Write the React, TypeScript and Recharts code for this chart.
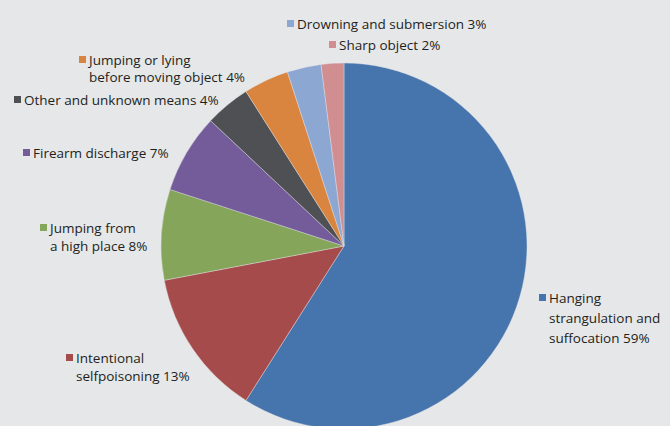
import { PieChart, Pie, Cell } from "recharts";

const categories = [
  "Hanging strangulation and suffocation",
  "Intentional selfpoisoning",
  "Jumping from a high place",
  "Firearm discharge",
  "Other and unknown means",
  "Jumping or lying before moving object",
  "Drowning and submersion",
  "Sharp object",
];
const shares = [59, 13, 8, 7, 4, 4, 3, 2];
const labelLines = [
  ["Hanging", "strangulation and", "suffocation 59%"],
  ["Intentional", "selfpoisoning 13%"],
  ["Jumping from", "a high place 8%"],
  ["Firearm discharge 7%"],
  ["Other and unknown means 4%"],
  ["Jumping or lying", "before moving object 4%"],
  ["Drowning and submersion 3%"],
  ["Sharp object 2%"],
];

const colors = ["#4674ad", "#a64b4b", "#84a55a", "#735c99", "#4e5054", "#d9843f", "#8da7d3", "#d08e90"];

// where each label sits: square left x, first baseline y, line height
const labelPos = [
  { x: 539, y: 303, lh: 20 },
  { x: 66, y: 363, lh: 18 },
  { x: 40, y: 233, lh: 18 },
  { x: 23, y: 158, lh: 18 },
  { x: 14, y: 105, lh: 18 },
  { x: 79, y: 65, lh: 16.5 },
  { x: 287, y: 29, lh: 18 },
  { x: 329, y: 50, lh: 18 },
];

const data = categories.map((name, i) => ({ name, value: shares[i] }));

const FONT = "'Open Sans', sans-serif";

function renderLabel(props: any) {
  const i = props.index;
  const p = labelPos[i];
  const lines = labelLines[i];
  return (
    <g key={"lbl" + i}>
      <rect x={p.x} y={p.y - 9} width={7} height={7} fill={colors[i]} />
      <text x={p.x + 10} y={p.y} fontFamily={FONT} fontSize={13.5} fill="#231f20">
        {lines.map((l, k) => (
          <tspan key={k} x={p.x + 10} y={p.y + k * p.lh}>
            {l}
          </tspan>
        ))}
      </text>
    </g>
  );
}

export default function App() {
  return (
    <div style={{ position: "absolute", left: 0, top: 0, width: 670, height: 426, background: "#e6e7e9", overflow: "hidden" }}>
      <PieChart width={670} height={426} margin={{ top: 0, right: 0, bottom: 0, left: 0 }}>
        <Pie
          data={data}
          dataKey="value"
          nameKey="name"
          cx={344}
          cy={246}
          outerRadius={183}
          startAngle={90}
          endAngle={-270}
          stroke="#e6e7e9"
          strokeWidth={0.4}
          label={renderLabel}
          labelLine={false}
          isAnimationActive={false}
        >
          {data.map((d, i) => (
            <Cell key={d.name} fill={colors[i]} />
          ))}
        </Pie>
      </PieChart>
    </div>
  );
}
